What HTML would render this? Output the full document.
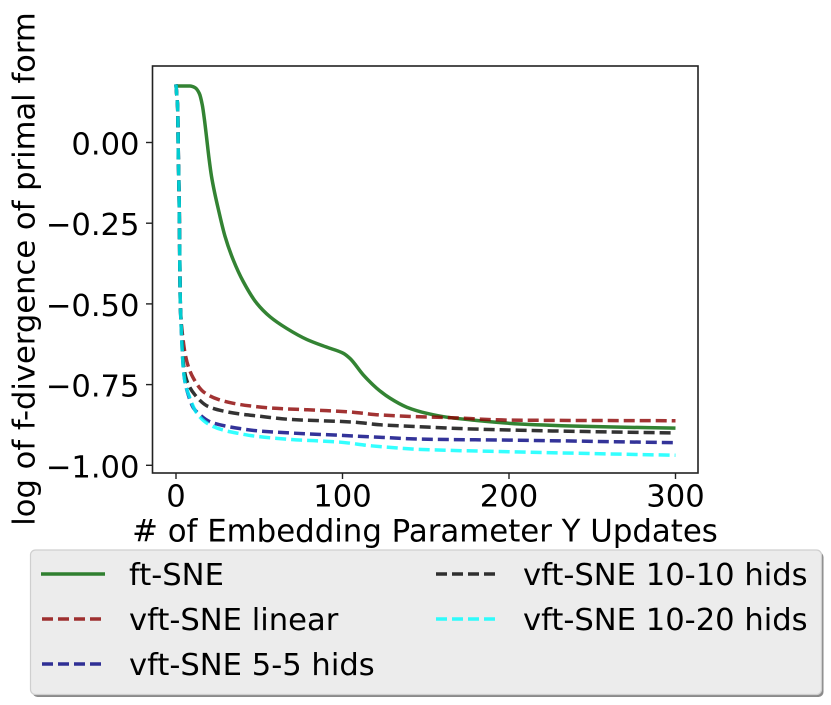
<!DOCTYPE html>
<html lang="en">
<head>
<meta charset="utf-8">
<title>f-divergence chart</title>
<style>
html,body{margin:0;padding:0;background:#fff;}
svg{display:block;}
text{font-family:"DejaVu Sans","Liberation Sans",sans-serif;fill:#000;font-size:30.6px;}
</style>
</head>
<body>
<svg id="chart" xmlns="http://www.w3.org/2000/svg" width="831" height="705" viewBox="0 0 831 705">
  <g id="marks"></g>
  <rect x="152.5" y="66" width="545.5" height="407" fill="none" stroke="#222" stroke-width="1.6"/>
  <g id="ticks"></g>
  <text x="425" y="541.5" text-anchor="middle" style="font-size:30.8px"># of Embedding Parameter Y Updates</text>
  <text transform="translate(34.5,269) rotate(-90)" text-anchor="middle">log of f-divergence of primal form</text>

  <g>
    <rect x="32.5" y="552" width="791" height="145" rx="5" fill="#8a8a8a"/>
    <rect x="30.5" y="550" width="791" height="144.5" rx="5" fill="#ececec" stroke="#cfcfcf" stroke-width="1.2"/>
    <line x1="41" x2="105" y1="574" y2="574" stroke="#006400" stroke-opacity="0.8" stroke-width="3.5"/>
    <text x="129" y="585">ft-SNE</text>
    <line x1="42" x2="104" y1="619" y2="619" stroke="#8b0000" stroke-opacity="0.8" stroke-width="3.5" stroke-dasharray="11 5"/>
    <text x="129" y="630">vft-SNE linear</text>
    <line x1="42" x2="104" y1="664" y2="664" stroke="#000080" stroke-opacity="0.8" stroke-width="3.5" stroke-dasharray="11 5"/>
    <text x="129" y="675">vft-SNE 5-5 hids</text>
    <line x1="436" x2="498" y1="574" y2="574" stroke="#000000" stroke-opacity="0.8" stroke-width="3.5" stroke-dasharray="11 5"/>
    <text x="523" y="585">vft-SNE 10-10 hids</text>
    <line x1="436" x2="498" y1="619" y2="619" stroke="#00ffff" stroke-opacity="0.8" stroke-width="3.5" stroke-dasharray="11 5"/>
    <text x="523" y="630">vft-SNE 10-20 hids</text>
  </g>
</svg>
<script>
var xTicks = [0, 100, 200, 300];
var yTicks = [0, -0.25, -0.5, -0.75, -1];
var yTickLabels = ["0.00", "\u22120.25", "\u22120.50", "\u22120.75", "\u22121.00"];

var ftX = [0, 8.4, 11.4, 14, 15.8, 17.1, 18.4, 19.8, 21.3, 23.1, 25.4, 29.4, 34.4, 40.4, 48.5, 56.5, 66.5, 78.5, 90.5, 100.5, 104.5, 112.5, 120.5, 128.5, 138.6, 150.6, 162.6, 178.4, 206.6, 250, 300];
var ftY = [0.175, 0.175, 0.17, 0.152, 0.116, 0.07, 0.014, -0.048, -0.104, -0.153, -0.206, -0.29, -0.364, -0.431, -0.498, -0.54, -0.576, -0.61, -0.634, -0.653, -0.669, -0.72, -0.761, -0.792, -0.82, -0.839, -0.851, -0.86, -0.872, -0.88, -0.885];

var linearX = [0, 0.4, 1, 1.4, 1.9, 2.4, 2.6, 3.2, 4, 5.4, 7.4, 10.4, 16.4, 25.4, 34.4, 44.4, 58, 79, 102.5, 122.5, 142.5, 162.6, 200.6, 300];
var linearY = [0.18, 0.15, 0.107, -0.04, -0.18, -0.43, -0.5, -0.56, -0.6, -0.652, -0.694, -0.73, -0.772, -0.796, -0.808, -0.816, -0.823, -0.828, -0.834, -0.844, -0.849, -0.852, -0.86, -0.862];

var hid55X = [0, 0.4, 1, 1.4, 1.9, 2.4, 2.6, 3.2, 3.8, 4.4, 5.4, 7.4, 10.4, 13.4, 20.4, 29.4, 39.4, 48.5, 69, 98, 118, 148, 200, 300];
var hid55Y = [0.18, 0.15, 0.107, -0.04, -0.18, -0.43, -0.5, -0.58, -0.65, -0.7, -0.741, -0.782, -0.822, -0.839, -0.865, -0.878, -0.887, -0.893, -0.9, -0.907, -0.912, -0.919, -0.922, -0.93];

var hid1010X = [0, 0.4, 1, 1.4, 1.9, 2.4, 2.6, 3.2, 3.8, 4.4, 6.4, 11.4, 19.4, 28.4, 38.4, 48.5, 69, 98, 106, 124, 144.6, 164.6, 202.4, 300];
var hid1010Y = [0.18, 0.15, 0.107, -0.04, -0.18, -0.43, -0.5, -0.57, -0.63, -0.683, -0.736, -0.782, -0.818, -0.832, -0.841, -0.847, -0.858, -0.864, -0.866, -0.875, -0.88, -0.885, -0.891, -0.9];

var hid1020X = [0, 0.4, 1, 1.4, 1.9, 2.4, 2.6, 3.2, 3.8, 4.4, 5.4, 8.4, 12.4, 19.4, 28.4, 37.4, 46.4, 69, 98, 118, 148, 200, 300];
var hid1020Y = [0.18, 0.15, 0.107, -0.04, -0.18, -0.43, -0.5, -0.58, -0.65, -0.7, -0.741, -0.792, -0.838, -0.872, -0.891, -0.901, -0.909, -0.92, -0.928, -0.94, -0.951, -0.958, -0.969];

var NS = 'http://www.w3.org/2000/svg';

function xScale(v) { return 176 + v * 1.665; }
function yScale(v) { return 142.5 - v * 322.8; }

function curvePath(xs, ys) {
  var n = xs.length, px = [], py = [], i;
  for (i = 0; i < n; i++) { px.push(xScale(xs[i])); py.push(yScale(ys[i])); }
  var steps = [], slopes = [], tangents = [];
  for (i = 0; i < n - 1; i++) {
    steps.push(px[i + 1] - px[i]);
    slopes.push((py[i + 1] - py[i]) / steps[i]);
  }
  tangents.push(slopes[0]);
  for (i = 1; i < n - 1; i++) {
    var a = slopes[i - 1], b = slopes[i];
    var w1 = 2 * steps[i] + steps[i - 1], w2 = steps[i] + 2 * steps[i - 1];
    tangents.push(a * b <= 0 ? 0 : (w1 + w2) / (w1 / a + w2 / b));
  }
  tangents.push(slopes[n - 2]);
  var d = 'M' + px[0].toFixed(2) + ' ' + py[0].toFixed(2);
  for (i = 0; i < n - 1; i++) {
    var h = steps[i] / 3;
    d += 'C' + (px[i] + h).toFixed(2) + ' ' + (py[i] + tangents[i] * h).toFixed(2) + ' ' +
      (px[i + 1] - h).toFixed(2) + ' ' + (py[i + 1] - tangents[i + 1] * h).toFixed(2) + ' ' +
      px[i + 1].toFixed(2) + ' ' + py[i + 1].toFixed(2);
  }
  return d;
}

var marks = document.getElementById('marks');
var ticks = document.getElementById('ticks');

function addSeries(name, xs, ys, color, dash) {
  var p = document.createElementNS(NS, 'path');
  
  
  p.setAttribute('d', curvePath(xs, ys));
  p.setAttribute('fill', 'none');
  p.setAttribute('stroke', color);
  p.setAttribute('stroke-opacity', '0.8');
  p.setAttribute('stroke-width', '3.5');
  p.setAttribute('stroke-linejoin', 'round');
  if (dash) { p.setAttribute('stroke-dasharray', '11 5'); }
  marks.appendChild(p);
}

addSeries('series-ft-sne', ftX, ftY, '#006400', false);
addSeries('series-vft-sne-linear', linearX, linearY, '#8b0000', true);
addSeries('series-vft-sne-5-5-hids', hid55X, hid55Y, '#000080', true);
addSeries('series-vft-sne-10-10-hids', hid1010X, hid1010Y, '#000000', true);
addSeries('series-vft-sne-10-20-hids', hid1020X, hid1020Y, '#00ffff', true);

xTicks.forEach(function (v) {
  var x = xScale(v);
  var t = document.createElementNS(NS, 'line');
  
  
  t.setAttribute('x1', x);
  t.setAttribute('x2', x);
  t.setAttribute('y1', 473);
  t.setAttribute('y2', 479);
  t.setAttribute('stroke', '#222');
  t.setAttribute('stroke-width', '1.4');
  ticks.appendChild(t);
  var l = document.createElementNS(NS, 'text');
  
  
  l.setAttribute('x', x);
  l.setAttribute('y', 506.5);
  l.setAttribute('text-anchor', 'middle');
  l.textContent = String(v);
  ticks.appendChild(l);
});

yTicks.forEach(function (v, i) {
  var y = yScale(v);
  var t = document.createElementNS(NS, 'line');
  
  
  t.setAttribute('x1', 146);
  t.setAttribute('x2', 152);
  t.setAttribute('y1', y);
  t.setAttribute('y2', y);
  t.setAttribute('stroke', '#222');
  t.setAttribute('stroke-width', '1.4');
  ticks.appendChild(t);
  var l = document.createElementNS(NS, 'text');
  
  
  l.setAttribute('x', 139.5);
  l.setAttribute('y', y + 12);
  l.setAttribute('text-anchor', 'end');
  l.textContent = yTickLabels[i];
  ticks.appendChild(l);
});
</script>
</body>
</html>
